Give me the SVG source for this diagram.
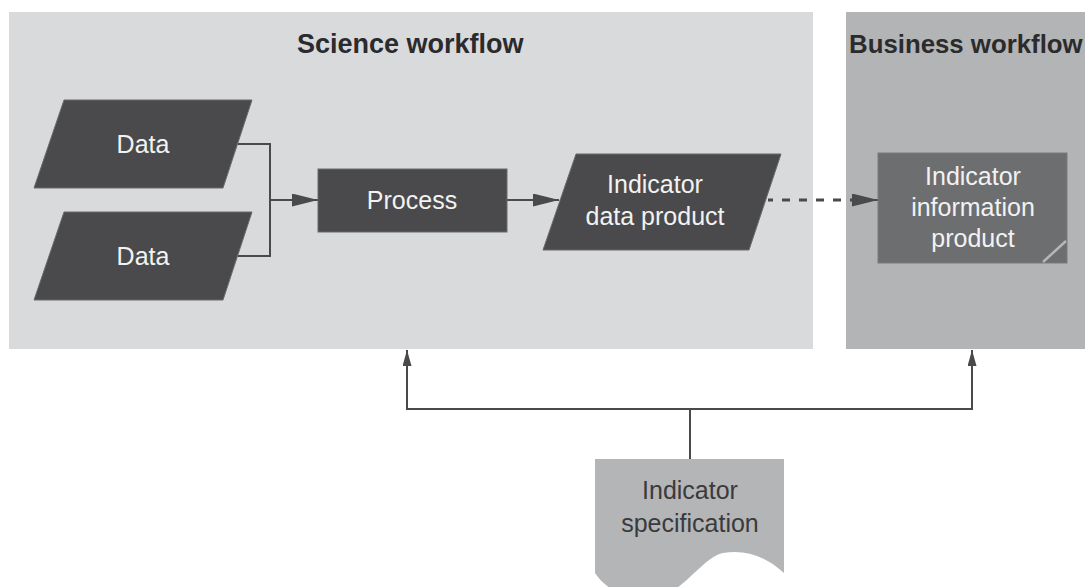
<svg xmlns="http://www.w3.org/2000/svg" width="1085" height="587" viewBox="0 0 1085 587">
<style>
.title{font-family:"Liberation Sans",Arial,sans-serif;font-weight:bold;font-size:27px;fill:#2b2b2d}
.lbl{font-family:"Liberation Sans",Arial,sans-serif;font-size:25px;fill:#f2f2f2;text-anchor:middle}
.dlbl{font-family:"Liberation Sans",Arial,sans-serif;font-size:25px;fill:#3a3a3c;text-anchor:middle}
.dark{fill:#4a4a4c;stroke:#6a6a6c;stroke-width:1}
.conn{fill:none;stroke:#4a4a4c;stroke-width:2}
.dash{fill:none;stroke:#4a4a4c;stroke-width:3;stroke-dasharray:8 9;stroke-dashoffset:3}
</style>
<defs>
<marker id="ah" markerUnits="userSpaceOnUse" markerWidth="26" markerHeight="13" refX="26" refY="6.5" orient="auto"><path d="M0,0 L26,6.5 L0,13 z" fill="#4a4a4c"/></marker>
<marker id="ahs" markerUnits="userSpaceOnUse" markerWidth="16" markerHeight="9" refX="16" refY="4.5" orient="auto"><path d="M0,0 L16,4.5 L0,9 z" fill="#4a4a4c"/></marker>
</defs>
<rect width="1085" height="587" fill="#ffffff"/>
<g id="science-workflow">
<rect x="9" y="12" width="804" height="337" fill="#d9dadc"/>
<text class="title" x="297" y="53">Science workflow</text>
</g>
<g id="business-workflow">
<rect x="846" y="12" width="250" height="337" fill="#b3b4b6"/>
<text class="title" x="849" y="53" style="font-size:25.8px">Business workflow</text>
</g>
<g id="connectors">
<path class="conn" d="M238,144 H270 V256 H238"/>
<path class="conn" d="M270,200 H318" marker-end="url(#ah)"/>
<path class="conn" d="M507,200 H559" marker-end="url(#ah)"/>
<path class="dash" d="M768,200 H852"/>
<path class="conn" d="M850,200 H878" marker-end="url(#ah)"/>
<path class="conn" d="M690,459 V409"/>
<path class="conn" d="M407,409 H972"/>
<path class="conn" d="M407,410 V350" marker-end="url(#ahs)"/>
<path class="conn" d="M972,410 V350" marker-end="url(#ahs)"/>
</g>
<g id="data1">
<polygon class="dark" points="64,100 252,100 223,188 34,188"/>
<text class="lbl" x="143" y="153">Data</text>
</g>
<g id="data2">
<polygon class="dark" points="64,212 252,212 223,300 34,300"/>
<text class="lbl" x="143" y="265">Data</text>
</g>
<g id="process">
<rect class="dark" x="318" y="169" width="189" height="63"/>
<text class="lbl" x="412" y="209">Process</text>
</g>
<g id="indicator-data-product">
<polygon class="dark" points="576,154 781,154 749,250 543,250"/>
<text class="lbl" x="655" y="193">Indicator</text>
<text class="lbl" x="655" y="225">data product</text>
</g>
<g id="indicator-information-product">
<rect x="878" y="153" width="189" height="110" fill="#6d6e70" stroke="#7a7b7d" stroke-width="1"/>
<line x1="1043" y1="262" x2="1066" y2="241" stroke="#b5b6b8" stroke-width="2.5"/>
<text class="lbl" x="973" y="185">Indicator</text>
<text class="lbl" x="973" y="216">information</text>
<text class="lbl" x="973" y="247">product</text>
</g>
<g id="indicator-specification">
<path d="M595,459 H784 V573 C765,556 745,549 723,553 C700,558 680,600 645,600 C625,600 605,588 595,573 Z" fill="#b4b5b7"/>
<text class="dlbl" x="690" y="499">Indicator</text>
<text class="dlbl" x="690" y="532">specification</text>
</g>
</svg>
